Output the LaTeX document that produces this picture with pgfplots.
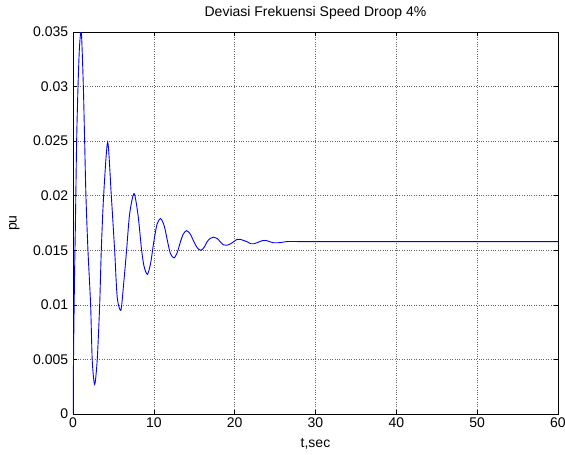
\documentclass[border=0pt]{standalone}
\usepackage{fontspec}
\setmainfont{Liberation Sans}
\usepackage{pgfplots}
\pgfplotsset{compat=1.18}
\begin{document}
\begin{tikzpicture}[x=1pt,y=1pt]
\useasboundingbox (-73,-41) rectangle (492,414);
\fontsize{14}{16}\selectfont
\begin{axis}[at={(0,0)}, anchor=south west,
  width=485pt, height=382pt, scale only axis,
  xmin=0, xmax=60, ymin=0, ymax=0.035,
  xtick={0,10,20,30,40,50,60},
  xticklabels={0,10,20,30,40,50,60},
  ytick={0,0.005,0.01,0.015,0.02,0.025,0.03,0.035},
  yticklabels={0,0.005,0.01,0.015,0.02,0.025,0.03,0.035},
  scaled y ticks=false,
  tick align=inside, major tick length=4pt,
  tick style={black, line width=0.6pt},
  axis line style={black, line width=0.8pt},
  grid=major, major grid style={dotted, black!60, line width=0.6pt},
  tick label style={font=\fontsize{14}{16}\selectfont},
  x tick label style={yshift=1pt},
  label style={font=\fontsize{14}{16}\selectfont},
  title style={font=\fontsize{14}{16}\selectfont, yshift=2pt},
  title={Deviasi Frekuensi Speed Droop 4\%},
  xlabel={t,sec}, ylabel={pu},
  xlabel style={yshift=-1pt}, ylabel style={yshift=4pt},
]
\addplot[blue, line width=0.9pt, smooth, tension=0.45] coordinates {
(0,0) (0.08,0.0062) (0.2,0.0131) (0.29,0.017) (0.45,0.025) (0.62,0.030)
(0.8,0.0336) (1.03,0.0350) (1.28,0.030) (1.44,0.025) (1.6,0.020)
(1.85,0.015) (2.18,0.010) (2.38,0.0049) (2.68,0.0027) (3.0,0.005)
(3.3,0.010) (3.5,0.015) (3.79,0.020) (4.29,0.0249) (4.74,0.020)
(5.15,0.015) (5.47,0.0107) (5.92,0.0095) (6.25,0.0118) (6.63,0.015)
(7.0,0.0183) (7.55,0.0202) (8.05,0.0182) (8.49,0.015) (8.8,0.0135)
(9.2,0.0128) (9.6,0.0138) (10.0,0.0158) (10.4,0.0174) (10.85,0.0179)
(11.3,0.0172) (11.7,0.0158) (12.05,0.0147) (12.5,0.0143) (12.9,0.0148)
(13.3,0.0158) (13.65,0.0165) (14.05,0.0168) (14.5,0.0165) (14.95,0.0158)
(15.4,0.0152) (15.85,0.0150) (16.25,0.0153) (16.6,0.0158) (17.0,0.0161)
(17.4,0.0162) (17.8,0.0161) (18.2,0.0158) (18.6,0.0155) (19.05,0.01546)
(19.5,0.0156) (19.9,0.0158) (20.3,0.0160) (20.7,0.0160) (21.1,0.0159)
(21.5,0.0158) (22.0,0.0156) (22.4,0.0156) (22.8,0.0157) (23.1,0.0158)
(23.5,0.0159) (23.9,0.0159) (24.3,0.0158) (24.7,0.0157) (25.6,0.0157)
(26.5,0.0158) (28,0.0158) (35,0.0158) (45,0.0158) (60,0.0158)
};
\end{axis}
\end{tikzpicture}
\end{document}
